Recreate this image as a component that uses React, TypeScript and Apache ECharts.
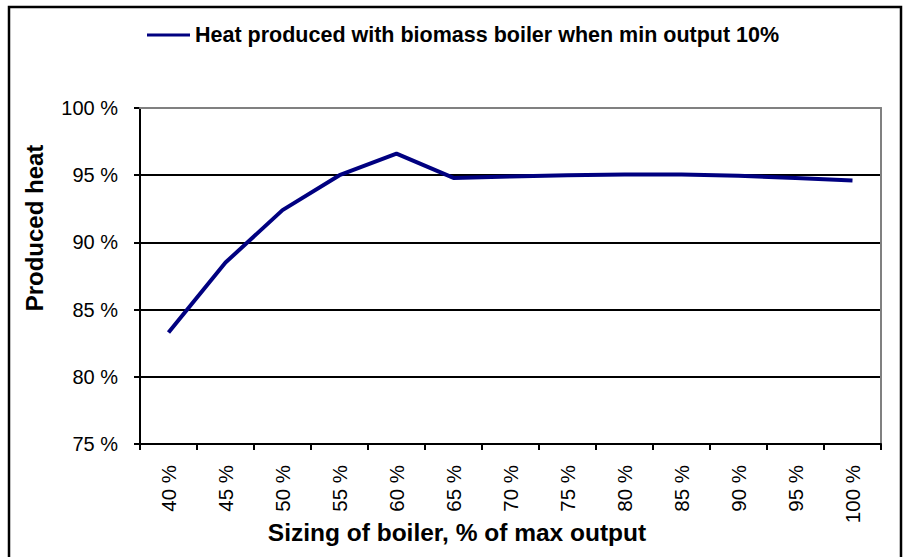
import React, { useEffect, useRef } from "react";
import * as echarts from "echarts";

const categories = ["40 %", "45 %", "50 %", "55 %", "60 %", "65 %", "70 %", "75 %", "80 %", "85 %", "90 %", "95 %", "100 %"];
const producedHeat = [83.3, 88.5, 92.4, 95.0, 96.6, 94.8, 94.9, 95.0, 95.05, 95.05, 94.95, 94.8, 94.6];
const yMin = 75;
const yMax = 100;
const yInterval = 5;
const seriesName = "Heat produced with biomass boiler when min output 10%";
const xAxisTitle = "Sizing of boiler, % of max output";
const yAxisTitle = "Produced heat";

const FONT = "'Liberation Sans', Arial, Helvetica, sans-serif";

export default function App() {
  const ref = useRef<HTMLDivElement>(null);

  useEffect(() => {
    if (!ref.current) return;
    const chart = echarts.init(ref.current, undefined, { renderer: "svg" });
    const option: any = {
      animation: false,
      backgroundColor: "#ffffff",
      textStyle: { fontFamily: FONT },
      grid: { left: 140, top: 108, right: 22, bottom: 113, containLabel: false },
      legend: {
        show: true,
        left: 147,
        top: 23,
        padding: 0,
        icon: "rect",
        itemWidth: 43,
        itemHeight: 3,
        data: [seriesName],
        textStyle: { fontSize: 21.5, fontWeight: "bold", color: "#000", fontFamily: FONT, lineHeight: 24 },
      },
      xAxis: [
        {
          type: "category",
          data: categories,
          boundaryGap: true,
          position: "bottom",
          axisLine: { show: true, lineStyle: { color: "#000", width: 2 } },
          axisTick: { show: true, length: 6, interval: 0, alignWithLabel: false, lineStyle: { color: "#000", width: 2 } },
          axisLabel: { interval: 0, rotate: 90, fontSize: 20.5, color: "#000", fontFamily: FONT, margin: 21 },
          splitLine: { show: false },
          z: 6,
        },
        {
          type: "category",
          data: categories,
          boundaryGap: true,
          position: "top",
          axisLine: { show: true, lineStyle: { color: "#808080", width: 2 } },
          axisTick: { show: false },
          axisLabel: { show: false },
          splitLine: { show: false },
          z: 5,
        },
      ],
      yAxis: [
        {
          type: "value",
          min: yMin,
          max: yMax,
          interval: yInterval,
          position: "left",
          axisLine: { show: true, lineStyle: { color: "#000", width: 2 } },
          axisTick: { show: true, length: 6, lineStyle: { color: "#000", width: 2 } },
          axisLabel: { formatter: "{value} %", fontSize: 20, color: "#000", fontFamily: FONT, margin: 22 },
          splitLine: { show: true, lineStyle: { color: "#000", width: 2 } },
          z: 4,
        },
        {
          type: "value",
          min: yMin,
          max: yMax,
          interval: yInterval,
          position: "right",
          axisLine: { show: true, lineStyle: { color: "#808080", width: 2 } },
          axisTick: { show: false },
          axisLabel: { show: false },
          splitLine: { show: false },
          z: 5,
        },
      ],
      series: [
        {
          name: seriesName,
          type: "line",
          data: producedHeat,
          xAxisIndex: 0,
          yAxisIndex: 0,
          showSymbol: false,
          symbol: "none",
          lineStyle: { color: "#000080", width: 4 },
          itemStyle: { color: "#000080" },
          z: 10,
        },
      ],
      graphic: [
        {
          type: "rect",
          silent: true,
          shape: { x: 9, y: 7, width: 892, height: 570 },
          style: { fill: "none", stroke: "#000", lineWidth: 2.5 },
        },
        {
          type: "text",
          x: 34,
          y: 228,
          rotation: Math.PI / 2,
          style: {
            text: yAxisTitle,
            fontSize: 24,
            fontWeight: "bold",
            fontFamily: FONT,
            fill: "#000",
            align: "center",
            verticalAlign: "middle",
          },
        },
        {
          type: "text",
          x: 457,
          y: 532,
          style: {
            text: xAxisTitle,
            fontSize: 24.5,
            fontWeight: "bold",
            fontFamily: FONT,
            fill: "#000",
            align: "center",
            verticalAlign: "middle",
          },
        },
      ],
    };
    chart.setOption(option);
    return () => chart.dispose();
  }, []);

  return (
    <div
      ref={ref}
      style={{ position: "fixed", left: 0, top: 0, width: 903, height: 557, background: "#fff" }}
    />
  );
}
